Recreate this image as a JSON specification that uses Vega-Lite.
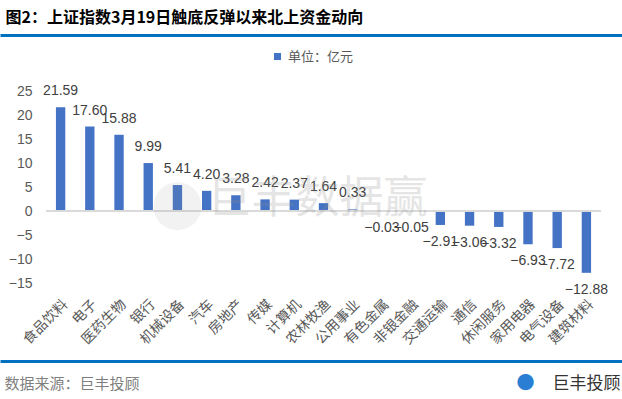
{
  "$schema": "https://vega.github.io/schema/vega-lite/v6.json",
  "width": 555,
  "height": 192,
  "autosize": "none",
  "padding": {"left": 46, "top": 91, "right": 21, "bottom": 116},
  "background": "white",
  "config": {"view": {"stroke": null}, "axis": {"grid": false, "labelOverlap": false}},
  "datasets": {
    "flows": [
      {"sector": "食品饮料", "v": 21.59},
      {"sector": "电子", "v": 17.60},
      {"sector": "医药生物", "v": 15.88},
      {"sector": "银行", "v": 9.99},
      {"sector": "机械设备", "v": 5.41},
      {"sector": "汽车", "v": 4.20},
      {"sector": "房地产", "v": 3.28},
      {"sector": "传媒", "v": 2.42},
      {"sector": "计算机", "v": 2.37},
      {"sector": "农林牧渔", "v": 1.64},
      {"sector": "公用事业", "v": 0.33},
      {"sector": "有色金属", "v": -0.03},
      {"sector": "非银金融", "v": -0.05},
      {"sector": "交通运输", "v": -2.91},
      {"sector": "通信", "v": -3.06},
      {"sector": "休闲服务", "v": -3.32},
      {"sector": "家用电器", "v": -6.93},
      {"sector": "电气设备", "v": -7.72},
      {"sector": "建筑材料", "v": -12.88}
    ],
    "wm": [{"t": "巨丰数据赢"}],
    "frame": [{"p": 0}, {"p": 622}],
    "yframe": [{"q": -15}, {"q": 25}]
  },
  "layer": [
    {
      "data": {"name": "flows"},
      "layer": [
        {
          "mark": {"type": "bar", "width": {"band": 0.32}},
          "encoding": {
            "x": {
              "field": "sector", "type": "nominal", "sort": null,
              "scale": {"paddingInner": 0, "paddingOuter": 0},
              "axis": {
                "title": null, "labelAngle": -45, "domain": false, "ticks": false,
                "labelPadding": 14, "labelFontSize": 14, "labelColor": "#595959",
                "labelFont": "Noto Sans CJK SC", "labelOverlap": false
              }
            },
            "y": {
              "field": "v", "type": "quantitative",
              "scale": {"domain": [-15, 25], "nice": false, "zero": false},
              "axis": {
                "title": null, "values": [-15, -5, 5, 15, 25],
                "domain": false, "ticks": false, "labelPadding": 14, "labelOverlap": false,
                "labelFontSize": 14, "labelColor": "#595959", "labelFont": "Liberation Sans"
              }
            },
            "color": {
              "datum": "单位：亿元",
              "scale": {"range": ["#4472C4"]},
              "legend": {
                "orient": "none", "legendX": 225, "legendY": -41, "title": null,
                "symbolType": "square", "symbolSize": 50, "labelFontSize": 13,
                "labelColor": "#595959", "labelFont": "Noto Sans CJK SC",
                "padding": 0, "labelOffset": 4
              }
            }
          }
        },
        {
          "mark": {"type": "rule", "color": "#d9d9d9", "strokeWidth": 1},
          "encoding": {"y": {"datum": 0, "type": "quantitative"}}
        },
        {
          "transform": [{"filter": "datum.v >= 0"}],
          "mark": {"type": "text", "dy": -16, "fontSize": 14, "font": "Liberation Sans", "color": "#404040"},
          "encoding": {
            "x": {"field": "sector", "type": "nominal", "sort": null},
            "y": {"field": "v", "type": "quantitative"},
            "text": {"field": "v", "type": "quantitative", "format": ".2f"}
          }
        },
        {
          "transform": [{"filter": "datum.v < 0"}],
          "mark": {"type": "text", "dy": 17, "fontSize": 14, "font": "Liberation Sans", "color": "#404040"},
          "encoding": {
            "x": {"field": "sector", "type": "nominal", "sort": null},
            "y": {"field": "v", "type": "quantitative"},
            "text": {"field": "v", "type": "quantitative", "format": ".2f"}
          }
        },
        {
          "data": {"name": "wm"},
          "mark": {"type": "point", "filled": true, "shape": "circle", "size": 2300, "color": "#9a9a9a", "opacity": 0.13, "dx": -7},
          "encoding": {
            "x": {"datum": "机械设备", "type": "nominal"},
            "y": {"datum": 1, "type": "quantitative"}
          }
        },
        {
          "data": {"name": "wm"},
          "mark": {"type": "text", "font": "Noto Sans CJK SC", "fontSize": 44, "color": "#8c8c8c", "opacity": 0.22, "dx": -6},
          "encoding": {
            "x": {"datum": "农林牧渔", "type": "nominal"},
            "y": {"datum": 2.3, "type": "quantitative"},
            "text": {"field": "t"}
          }
        }
      ]
    },
    {
      "data": {"name": "yframe"},
      "mark": {"type": "rule", "opacity": 0},
      "encoding": {
        "y": {
          "field": "q", "type": "quantitative",
          "scale": {"domain": [-15, 25], "nice": false, "zero": false},
          "axis": {
            "orient": "left", "title": null, "values": [-10, 0, 10, 20],
            "domain": false, "ticks": false, "grid": false, "labelPadding": 14, "labelOverlap": false,
            "labelFontSize": 14, "labelColor": "#595959", "labelFont": "Liberation Sans"
          }
        }
      }
    },
    {
      "data": {"name": "frame"},
      "mark": {"type": "rule", "opacity": 0},
      "encoding": {
        "x": {
          "field": "p", "type": "quantitative",
          "scale": {"domain": [0, 622], "range": [-46, 576], "nice": false, "zero": false},
          "axis": {
            "orient": "top", "offset": 56, "domainColor": "#0070C0", "domainWidth": 3,
            "ticks": false, "labels": false, "grid": false,
            "title": "图2：上证指数3月19日触底反弹以来北上资金动向",
            "titleX": -41, "titleY": -18, "titleAnchor": "start", "titleAlign": "left",
            "titleBaseline": "middle", "titleFontSize": 16, "titleFontWeight": "bold",
            "titleFont": "Noto Sans CJK SC", "titleColor": "#000000"
          }
        }
      }
    },
    {
      "data": {"name": "frame"},
      "mark": {"type": "rule", "opacity": 0},
      "encoding": {
        "x": {
          "field": "p", "type": "quantitative",
          "scale": {"domain": [0, 622], "range": [-46, 576], "nice": false, "zero": false},
          "axis": {
            "orient": "bottom", "offset": 78, "domainColor": "#0070C0", "domainWidth": 3,
            "ticks": false, "grid": false, "title": null,
            "values": [4, 525, 620],
            "labelExpr": "datum.value == 4 ? '数据来源：巨丰投顾' : (datum.value == 620 ? '巨丰投顾' : '●')",
            "labelOverlap": false, "labelFlush": false, "labelBound": false,
            "labelBaseline": "middle", "labelPadding": 22,
            "labelFont": "Noto Sans CJK SC",
            "labelAlign": {"condition": [{"test": "datum.value == 4", "value": "left"}, {"test": "datum.value == 620", "value": "right"}], "value": "center"},
            "labelFontSize": {"condition": [{"test": "datum.value == 4", "value": 15}, {"test": "datum.value == 620", "value": 17}], "value": 18},
            "labelColor": {"condition": [{"test": "datum.value == 4", "value": "#7f7f7f"}, {"test": "datum.value == 620", "value": "#333333"}], "value": "#2a7fd4"}
          }
        }
      }
    }
  ],
  "resolve": {"scale": {"x": "independent", "y": "independent"}, "axis": {"x": "independent", "y": "independent"}}
}
